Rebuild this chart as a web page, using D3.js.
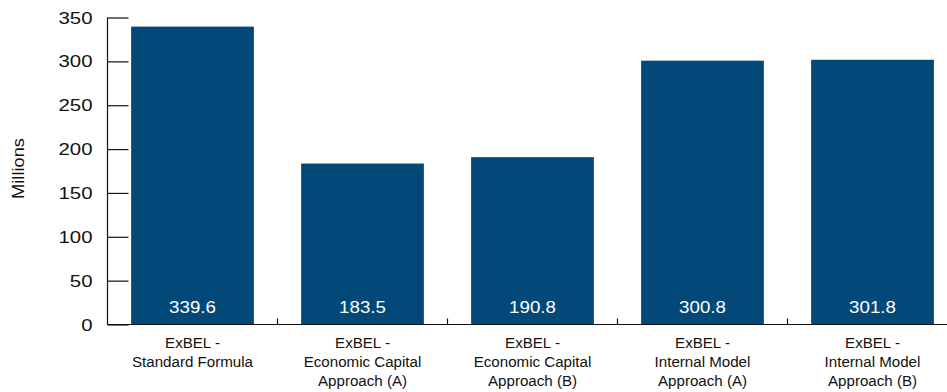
<!DOCTYPE html>
<html>
<head>
<meta charset="utf-8">
<script src="https://cdn.jsdelivr.net/npm/d3@7"></script>
<style>
  html, body { margin: 0; padding: 0; background: #fff; }
  svg { display: block; font-family: "Liberation Sans", Arial, Helvetica, sans-serif; }
</style>
</head>
<body>
<svg id="chart" width="947" height="392"></svg>
<script>
// Best estimate of liabilities under each approach (millions)
const categories = [
  ["ExBEL -", "Standard Formula"],
  ["ExBEL -", "Economic Capital", "Approach (A)"],
  ["ExBEL -", "Economic Capital", "Approach (B)"],
  ["ExBEL -", "Internal Model", "Approach (A)"],
  ["ExBEL -", "Internal Model", "Approach (B)"]
];
const values = [339.6, 183.5, 190.8, 300.8, 301.8];
const yTicks = [0, 50, 100, 150, 200, 250, 300, 350];
const yTitle = "Millions";

const svg = d3.select("#chart");
const plotLeft = 107.5, plotTop = 17.5, plotBottom = 324.5;
const barColor = "#02497a";
const ink = "#111";

// Text in this chart uses a slightly widened face
const wide = (x, y, sx) => `translate(${x},${y}) scale(${sx},1)`;

const x = d3.scaleBand()
  .domain(d3.range(categories.length))
  .range([plotLeft, plotLeft + 170 * categories.length])
  .paddingInner(0.278)
  .paddingOuter(0.139);

const y = d3.scaleLinear().domain([0, 350]).range([plotBottom, plotTop]);

// Bars
svg.append("g").selectAll("rect")
  .data(values)
  .join("rect")
  .attr("x", (d, i) => x(i))
  .attr("width", x.bandwidth())
  .attr("y", d => y(d))
  .attr("height", d => y(0) - y(d))
  .attr("fill", barColor);

// Value labels inside the bars, near the base
svg.append("g").selectAll("text")
  .data(values)
  .join("text")
  .attr("transform", (d, i) => wide(x(i) + x.bandwidth() / 2, y(0) - 11.5, 1.1))
  .attr("text-anchor", "middle")
  .attr("fill", "#fff")
  .attr("font-size", 17)
  .text(d => d.toFixed(1));

// Y axis with inward ticks
const yAxis = svg.append("g")
  .attr("transform", `translate(${plotLeft},0)`)
  .call(d3.axisRight(y).tickValues(yTicks).tickSize(21).tickFormat(""));
yAxis.select(".domain").remove();
yAxis.selectAll(".tick line").attr("stroke", ink).attr("stroke-width", 1.2);
svg.append("line")
  .attr("x1", plotLeft).attr("x2", plotLeft)
  .attr("y1", plotTop).attr("y2", plotBottom)
  .attr("stroke", ink).attr("stroke-width", 1.2);

svg.append("g").selectAll("text")
  .data(yTicks)
  .join("text")
  .attr("transform", d => wide(92.5, y(d), 1.2))
  .attr("dy", "0.36em")
  .attr("text-anchor", "end")
  .attr("font-size", 17)
  .attr("fill", ink)
  .text(d => d);

// Y axis title
svg.append("text")
  .attr("transform", `translate(24,${(plotTop + plotBottom) / 2 - 2.5}) rotate(-90) scale(1.14,1)`)
  .attr("text-anchor", "middle")
  .attr("font-size", 16)
  .attr("fill", ink)
  .text(yTitle);

// X axis line with category separators
svg.append("line")
  .attr("x1", plotLeft).attr("x2", 947)
  .attr("y1", plotBottom).attr("y2", plotBottom)
  .attr("stroke", ink).attr("stroke-width", 1.2);

const step = x.step();
svg.append("g").selectAll("line")
  .data(d3.range(1, categories.length))
  .join("line")
  .attr("x1", i => x(i) - step * x.paddingInner() / 2)
  .attr("x2", i => x(i) - step * x.paddingInner() / 2)
  .attr("y1", plotBottom)
  .attr("y2", plotBottom - 6)
  .attr("stroke", ink).attr("stroke-width", 1.2);

// Category labels
const catG = svg.append("g").selectAll("text")
  .data(categories)
  .join("text")
  .attr("transform", (d, i) => wide(x(i) + x.bandwidth() / 2, 348, 1.08))
  .attr("text-anchor", "middle")
  .attr("font-size", 14)
  .attr("fill", ink);
catG.selectAll("tspan")
  .data(d => d)
  .join("tspan")
  .attr("x", 0)
  .attr("dy", (d, j) => j === 0 ? 0 : 18.8)
  .text(d => d);
</script>
</body>
</html>
